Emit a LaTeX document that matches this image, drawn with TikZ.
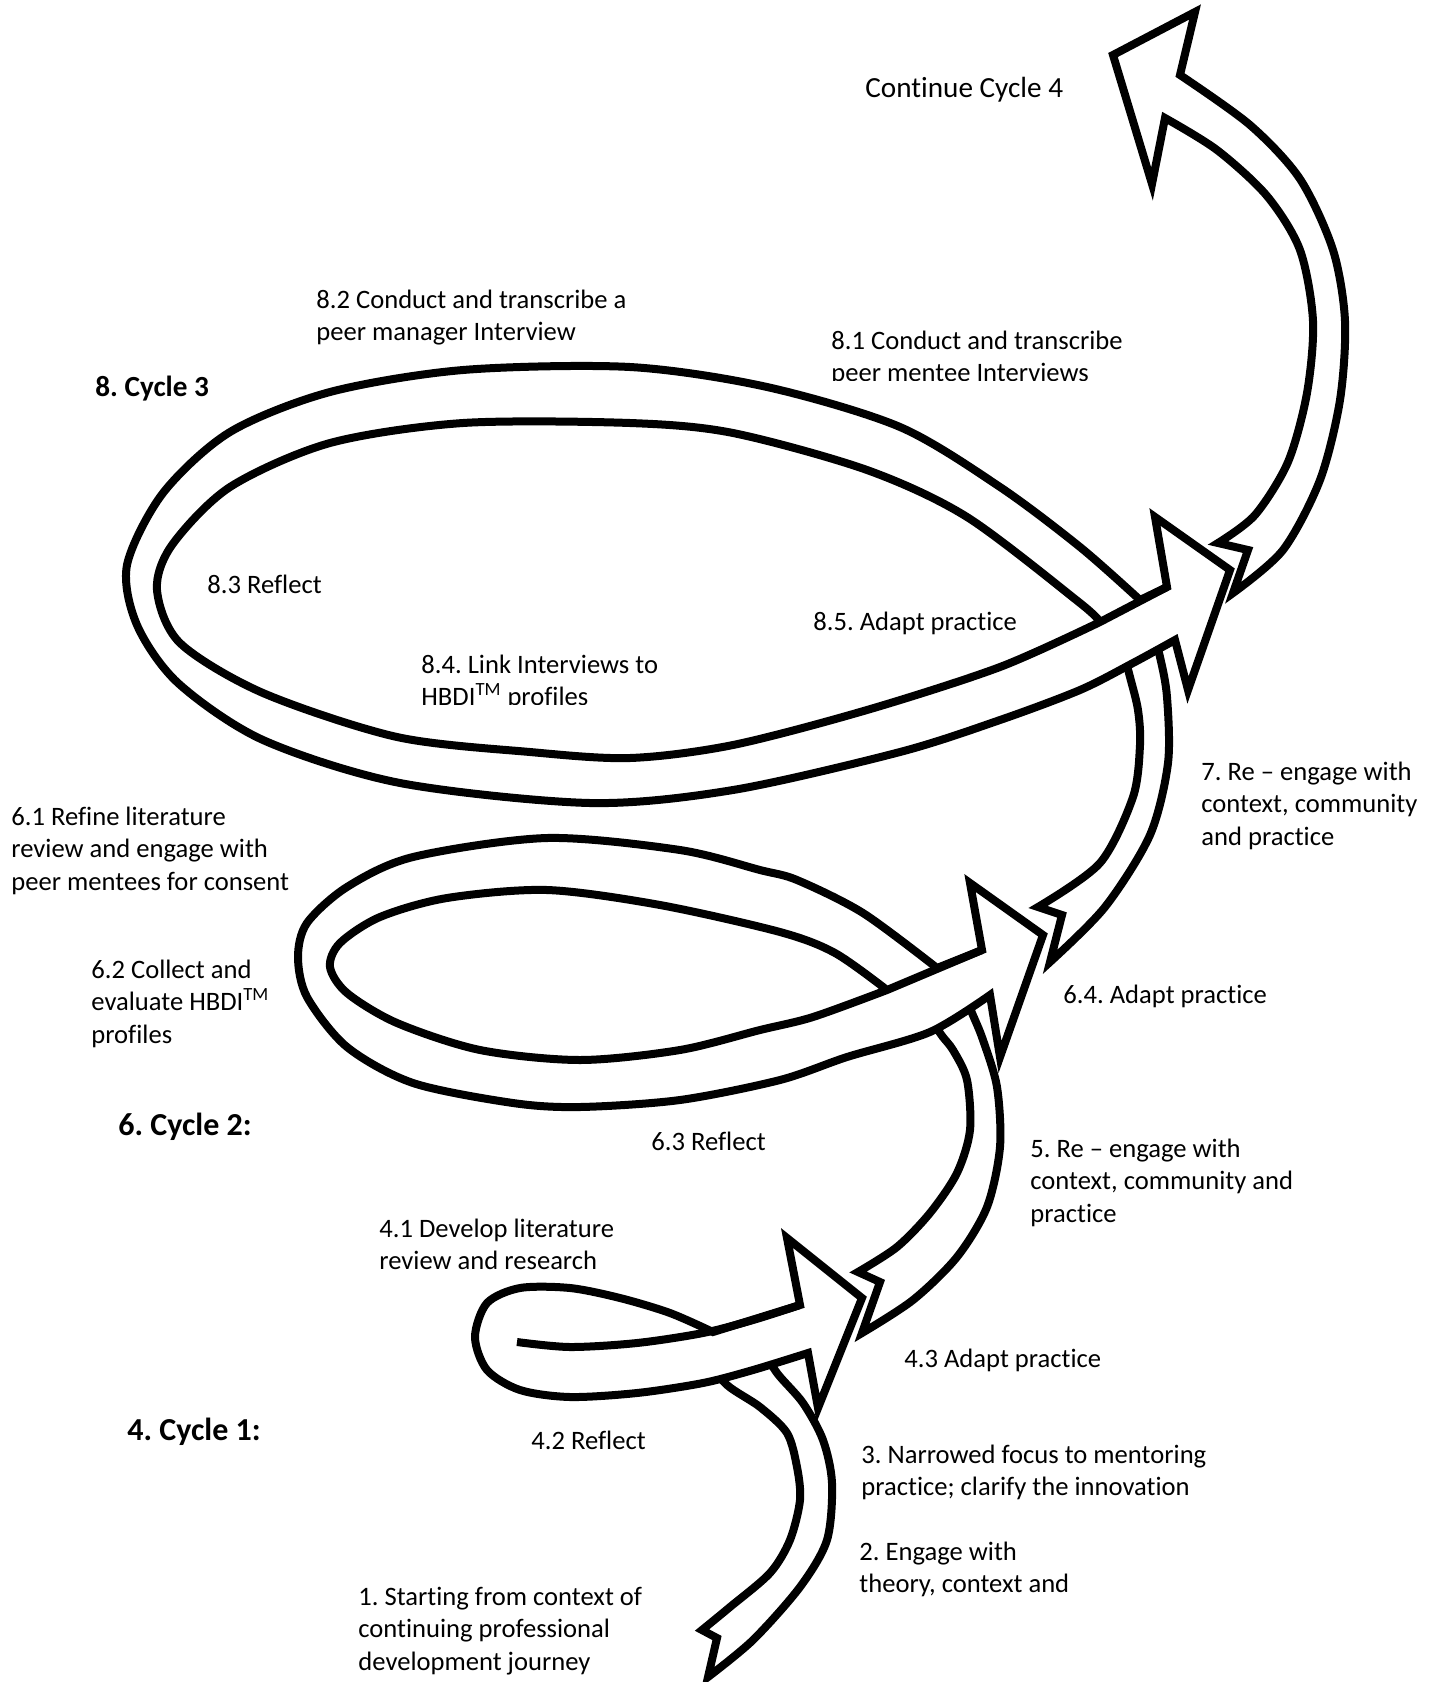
\documentclass[tikz,border=0pt]{standalone}
\usepackage{fontspec}
\setmainfont[Ligatures={NoCommon}]{Carlito}
\frenchspacing
\newcommand\txtrows[1]{\begin{tabular}[t]{@{}l@{}}#1\end{tabular}}
\begin{document}
\begin{tikzpicture}[x=0.5pt,y=-0.5pt,
  outline/.style={draw=black, line width=4pt, fill=white, line join=miter},
  rim/.style={draw=black, line width=4pt, line cap=butt, line join=miter},
  lbl/.style={anchor=base west, inner sep=0pt, font=\fontsize{13.3pt}{16.3pt}\selectfont},
  biglbl/.style={lbl, font=\fontsize{14.6pt}{17pt}\selectfont},
  cyc/.style={lbl, font=\fontsize{16pt}{19pt}\selectfont\bfseries},
  cycsmall/.style={lbl, font=\fontsize{14.6pt}{17pt}\selectfont\bfseries}]
\useasboundingbox (0,0) rectangle (1437,1682);

% ---- band 1: from the starting tail up into cycle 1
\draw[outline] (702,1630) -- (717,1638) -- (708,1677)
  -- plot[smooth] coordinates {(708,1677) (753,1640) (800,1587) (827,1540) (832,1483) (823,1440) (803,1403) (777,1373) (760,1345)}
  -- plot[smooth] coordinates {(705,1358) (727,1385) (760,1407) (787,1433) (797,1467) (800,1500) (790,1540) (770,1573) (730,1607) (702,1630)}
  -- cycle;

% ---- cycle 1 loop with its arrowhead
\draw[outline] (713,1332)
  -- plot[smooth] coordinates {(713,1332) (670,1313) (620,1298) (570,1288) (520,1288) (487,1303) (475,1337) (487,1370) (520,1390) (570,1397) (637,1393) (703,1383) (753,1370) (808,1353)}
  -- (818,1408) -- (862,1298) -- (787,1238) -- (800,1305) -- cycle;
\draw[rim] plot[smooth] coordinates {(517,1342) (570,1347) (637,1343) (703,1333) (753,1320) (800,1305)};

% ---- band 2
\draw[outline] (858,1272) -- (880,1282) -- (862,1333)
  -- plot[smooth] coordinates {(862,1333) (913,1300) (957,1257) (987,1207) (1000,1147) (997,1087) (983,1040) (972,1013) (960,985)}
  -- plot[smooth] coordinates {(925,1005) (940,1033) (953,1050) (967,1080) (970,1130) (957,1173) (930,1213) (897,1247) (858,1272)}
  -- cycle;

% ---- cycle 2 loop with its arrowhead
\draw[outline] (937,968)
  -- plot[smooth] coordinates {(937,968) (863,913) (797,880) (760,870) (680,850) (547,838) (413,857) (347,887) (307,923) (298,957) (307,997) (347,1047) (413,1083) (513,1103) (580,1107) (680,1100) (780,1080) (847,1057) (930,1032) (990,995)}
  -- (1000,1057) -- (1043,935) -- (970,883) -- (982,950) -- cycle;
\draw[rim] plot[smooth] coordinates {(887,990) (835,953) (780,932) (660,905) (547,890) (447,898) (380,917) (340,943) (330,967) (347,993) (397,1023) (480,1050) (580,1060) (680,1050) (760,1030) (813,1017) (887,990)} -- (982,950);

% ---- band 3
\draw[outline] (1038,907) -- (1062,915) -- (1050,962)
  -- plot[smooth] coordinates {(1050,962) (1105,907) (1150,835) (1168,763) (1167,697) (1160,657) (1150,622)}
  -- plot[smooth] coordinates {(1120,640) (1130,677) (1138,710) (1140,745) (1133,797) (1100,863) (1038,907)}
  -- cycle;

% ---- cycle 3 loop with its arrowhead
\draw[outline] (1140,600)
  -- plot[smooth] coordinates {(1140,600) (1080,547) (1000,487) (900,427) (767,387) (630,367) (463,370) (330,392) (230,432) (163,493) (127,565) (137,625) (178,683) (263,740) (400,783) (590,803) (733,790) (900,752) (1000,720) (1080,690) (1133,663) (1175,640)}
  -- (1188,690) -- (1230,570) -- (1155,517) -- (1167,587) -- cycle;
\draw[rim] plot[smooth] coordinates {(1100,622) (1080,603) (967,517) (867,470) (733,433) (630,423) (463,423) (330,443) (230,487) (172,545) (157,590) (180,643) (263,693) (397,737) (530,752) (630,758) (733,745) (867,710) (1000,667) (1100,622)} -- (1167,587);

% ---- band 4 up to the final arrowhead
\draw[outline] (1218,543) -- (1248,550) -- (1233,593)
  -- plot[smooth] coordinates {(1233,593) (1283,550) (1320,480) (1340,400) (1345,321) (1333,250) (1300,179) (1250,125) (1180,75)}
  -- (1195,12) -- (1113,55) -- (1152,184) -- (1165,118)
  -- plot[smooth] coordinates {(1165,118) (1217,150) (1267,196) (1300,250) (1313,321) (1307,393) (1288,462) (1255,515) (1218,543)}
  -- cycle;

% ---- labels
\node[biglbl] (cont) at (865,97) {Continue Cycle 4};
\node[lbl] (t82) at (316,308) {\txtrows{8.2 Conduct and transcribe a\\peer manager Interview}};
\begin{scope}
  \clip (820,310) rectangle (1160,380);
  \node[lbl] (t81) at (831,349) {\txtrows{8.1 Conduct and transcribe\\peer mentee Interviews}};
\end{scope}
\node[cycsmall] (c3) at (95,396) {8. Cycle 3};
\node[lbl] (t83) at (207,593) {8.3 Reflect};
\node[lbl] (t85) at (813,630) {8.5. Adapt practice};
\begin{scope}
  \clip (410,640) rectangle (720,704);
  \node[lbl] (t84) at (421,673) {\txtrows{8.4. Link Interviews to\\HBDI\textsuperscript{TM} profiles}};
\end{scope}
\node[lbl] (t7) at (1201,780) {\txtrows{7. Re – engage with\\context, community\\and practice}};
\node[lbl] (t61) at (11,825) {\txtrows{6.1 Refine literature\\review and engage with\\peer mentees for consent}};
\node[lbl] (t62) at (91,978) {\txtrows{6.2 Collect and\\evaluate HBDI\textsuperscript{TM}\\profiles}};
\node[lbl] (t64) at (1063,1003) {6.4. Adapt practice};
\node[cyc] (c2) at (118,1135) {6. Cycle 2:};
\node[lbl] (t63) at (651,1150) {6.3 Reflect};
\node[lbl] (t5) at (1030,1157) {\txtrows{5. Re – engage with\\context, community and\\practice}};
\node[lbl] (t41) at (379,1237) {\txtrows{4.1 Develop literature\\review and research}};
\node[lbl] (t43) at (904,1367) {4.3 Adapt practice};
\node[cyc] (c1) at (127,1440) {4. Cycle 1:};
\node[lbl] (t42) at (531,1449) {4.2 Reflect};
\node[lbl] (t3) at (861,1463) {\txtrows{3. Narrowed focus to mentoring\\practice; clarify the innovation}};
\node[lbl] (t2) at (859,1560) {\txtrows{2. Engage with\\theory, context and}};
\node[lbl] (t1) at (358,1605) {\txtrows{1. Starting from context of\\continuing professional\\development journey}};
\end{tikzpicture}
\end{document}
